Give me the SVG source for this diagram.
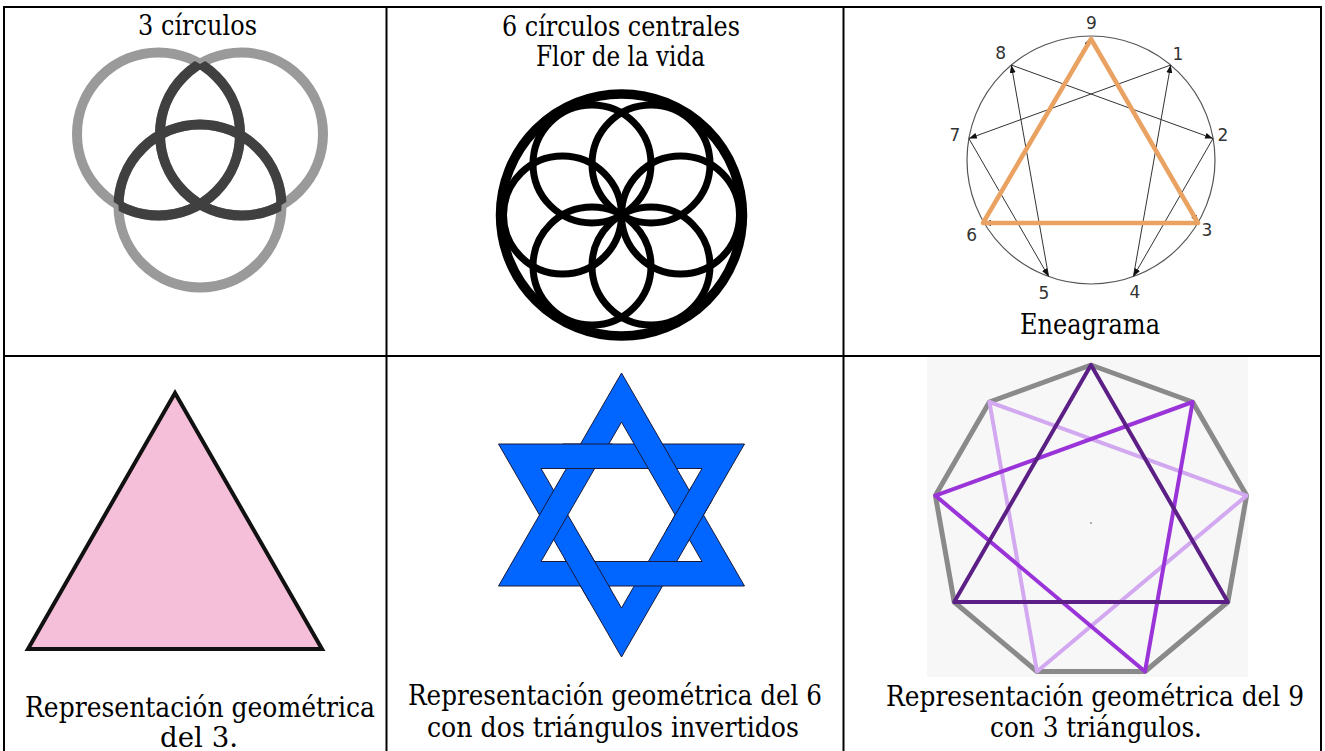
<svg xmlns="http://www.w3.org/2000/svg" width="1325" height="751" viewBox="0 0 1325 751">
<style>
.cap{font-family:"DejaVu Serif","Liberation Serif",serif;font-size:27px;fill:#000;text-anchor:middle}
.num{font-family:"DejaVu Sans","Liberation Sans",sans-serif;font-size:17px;fill:#333;text-anchor:middle}
.grid{stroke:#000;stroke-width:2;fill:none}
.gc{fill:none;stroke:#9a9a9a;stroke-width:10}
.dc{fill:none;stroke:#404040;stroke-width:10}
.arr{stroke:#333;stroke-width:1;fill:none;marker-end:url(#ah)}
.star{fill:#0066ff;fill-rule:evenodd;stroke:#1a1a3a;stroke-width:1;stroke-linejoin:miter}
</style>
<defs>
<marker id="ah" markerUnits="userSpaceOnUse" markerWidth="9" markerHeight="7" refX="8" refY="3" orient="auto"><path d="M0,0 L8,3 L0,6 z" fill="#111"/></marker>
<clipPath id="clipA"><circle cx="241.5" cy="134" r="81.5"/><circle cx="200" cy="206" r="81.5"/></clipPath>
<clipPath id="clipB"><circle cx="158.5" cy="134" r="81.5"/><circle cx="200" cy="206" r="81.5"/></clipPath>
<clipPath id="clipC"><circle cx="158.5" cy="134" r="81.5"/><circle cx="241.5" cy="134" r="81.5"/></clipPath>
<clipPath id="clipX"><circle cx="587.6" cy="456.3" r="28"/><circle cx="689.3" cy="515" r="28"/><circle cx="587.6" cy="573.7" r="28"/></clipPath>
</defs>
<rect width="1325" height="751" fill="#fff"/>

<g id="tabla">
<line class="grid" x1="3" y1="7" x2="1322" y2="7"/>
<line class="grid" x1="4" y1="6" x2="4" y2="751"/>
<line class="grid" x1="1321" y1="6" x2="1321" y2="751"/>
<line class="grid" x1="386.5" y1="6" x2="386.5" y2="751"/>
<line class="grid" x1="843.5" y1="6" x2="843.5" y2="751"/>
<line class="grid" x1="3" y1="356" x2="1322" y2="356"/>
</g>

<g id="tres-circulos">
<circle class="gc" cx="158.5" cy="134" r="81.5"/>
<circle class="gc" cx="241.5" cy="134" r="81.5"/>
<circle class="gc" cx="200" cy="206" r="81.5"/>
<circle class="dc" cx="158.5" cy="134" r="81.5" clip-path="url(#clipA)"/>
<circle class="dc" cx="241.5" cy="134" r="81.5" clip-path="url(#clipB)"/>
<circle class="dc" cx="200" cy="206" r="81.5" clip-path="url(#clipC)"/>
<text class="cap" x="197.5" y="35" textLength="119" lengthAdjust="spacingAndGlyphs">3 círculos</text>
</g>

<g id="flor-de-la-vida" fill="none" stroke="#000">
<circle cx="621.5" cy="215" r="121" stroke-width="9.5"/>
<g stroke-width="7">
<circle cx="680.5" cy="215" r="59"/>
<circle cx="651" cy="266.1" r="59"/>
<circle cx="592" cy="266.1" r="59"/>
<circle cx="562.5" cy="215" r="59"/>
<circle cx="592" cy="163.9" r="59"/>
<circle cx="651" cy="163.9" r="59"/>
</g>
<text class="cap" x="621" y="36" textLength="238" lengthAdjust="spacingAndGlyphs" stroke="none">6 círculos centrales</text>
<text class="cap" x="620.5" y="66" textLength="169" lengthAdjust="spacingAndGlyphs" stroke="none">Flor de la vida</text>
</g>

<g id="eneagrama">
<circle cx="1091" cy="160" r="124" fill="none" stroke="#555" stroke-width="1.2"/>
<g id="conectores">
<line class="arr" x1="1011.3" y1="65" x2="1213" y2="138.5"/>
<line class="arr" x1="1170.7" y1="65" x2="968.9" y2="138.5"/>
<line class="arr" x1="1048.6" y1="276.5" x2="1011.3" y2="65"/>
<line class="arr" x1="1133.4" y1="276.5" x2="1170.7" y2="65"/>
<line class="arr" x1="1213" y1="138.5" x2="1133.4" y2="276.5"/>
<line class="arr" x1="968.9" y1="138.5" x2="1048.6" y2="276.5"/>
<line class="arr" x1="983" y1="223" x2="1091" y2="38"/>
<line class="arr" x1="1091" y1="38" x2="1198" y2="223"/>
<line class="arr" x1="1198" y1="223" x2="983" y2="223"/>
</g>
<polygon points="1091,39 1198,223 983,223" fill="none" stroke="#e9a262" stroke-width="4.5" stroke-linejoin="round"/>
<text class="num" x="1091.5" y="29">9</text>
<text class="num" x="1000.7" y="59">8</text>
<text class="num" x="1178" y="60">1</text>
<text class="num" x="955" y="141">7</text>
<text class="num" x="1223" y="141">2</text>
<text class="num" x="971.7" y="241">6</text>
<text class="num" x="1207" y="236">3</text>
<text class="num" x="1044" y="299">5</text>
<text class="num" x="1135" y="298">4</text>
<text class="cap" x="1090" y="334" textLength="140" lengthAdjust="spacingAndGlyphs">Eneagrama</text>
</g>

<g id="triangulo-rosa">
<polygon points="175,393 322,649 28,649" fill="#f6bfd9" stroke="#111" stroke-width="4"/>
<text class="cap" x="200" y="717" textLength="350" lengthAdjust="spacingAndGlyphs">Representación geométrica</text>
<text class="cap" x="199" y="747" textLength="78" lengthAdjust="spacingAndGlyphs">del 3.</text>
</g>

<g id="estrella">
<path class="star" d="M621.5,657 L744.5,444 L498.5,444 Z M621.5,608 L702,468.5 L541,468.5 Z"/>
<path class="star" d="M621.5,373 L744.5,586 L498.5,586 Z M621.5,422 L702,561.5 L541,561.5 Z"/>
<path class="star" clip-path="url(#clipX)" d="M621.5,657 L744.5,444 L498.5,444 Z M621.5,608 L702,468.5 L541,468.5 Z"/>
<text class="cap" x="615" y="705" textLength="414" lengthAdjust="spacingAndGlyphs">Representación geométrica del 6</text>
<text class="cap" x="613" y="737" textLength="372" lengthAdjust="spacingAndGlyphs">con dos triángulos invertidos</text>
</g>

<g id="eneagono">
<rect x="927" y="357" width="321" height="320" fill="#f7f7f7"/>
<polygon points="1091,365 1192.6,402 1246.6,495.6 1227.8,602 1145,671.5 1037,671.5 954.2,602 935.4,495.6 989.4,402" fill="none" stroke="#8a8a8a" stroke-width="5" stroke-linejoin="round"/>
<polygon points="1246.6,495.6 1037,671.5 989.4,402" fill="none" stroke="#d2a8f0" stroke-width="4" stroke-linejoin="round"/>
<polygon points="1192.6,402 1145,671.5 935.4,495.6" fill="none" stroke="#9a34d8" stroke-width="4" stroke-linejoin="round"/>
<polygon points="1091,365 1227.8,602 954.2,602" fill="none" stroke="#5c1f86" stroke-width="4" stroke-linejoin="round"/>
<circle cx="1091" cy="523" r="1" fill="#999"/>
<text class="cap" x="1095" y="706" textLength="418" lengthAdjust="spacingAndGlyphs">Representación geométrica del 9</text>
<text class="cap" x="1096" y="737" textLength="212" lengthAdjust="spacingAndGlyphs">con 3 triángulos.</text>
</g>
</svg>
